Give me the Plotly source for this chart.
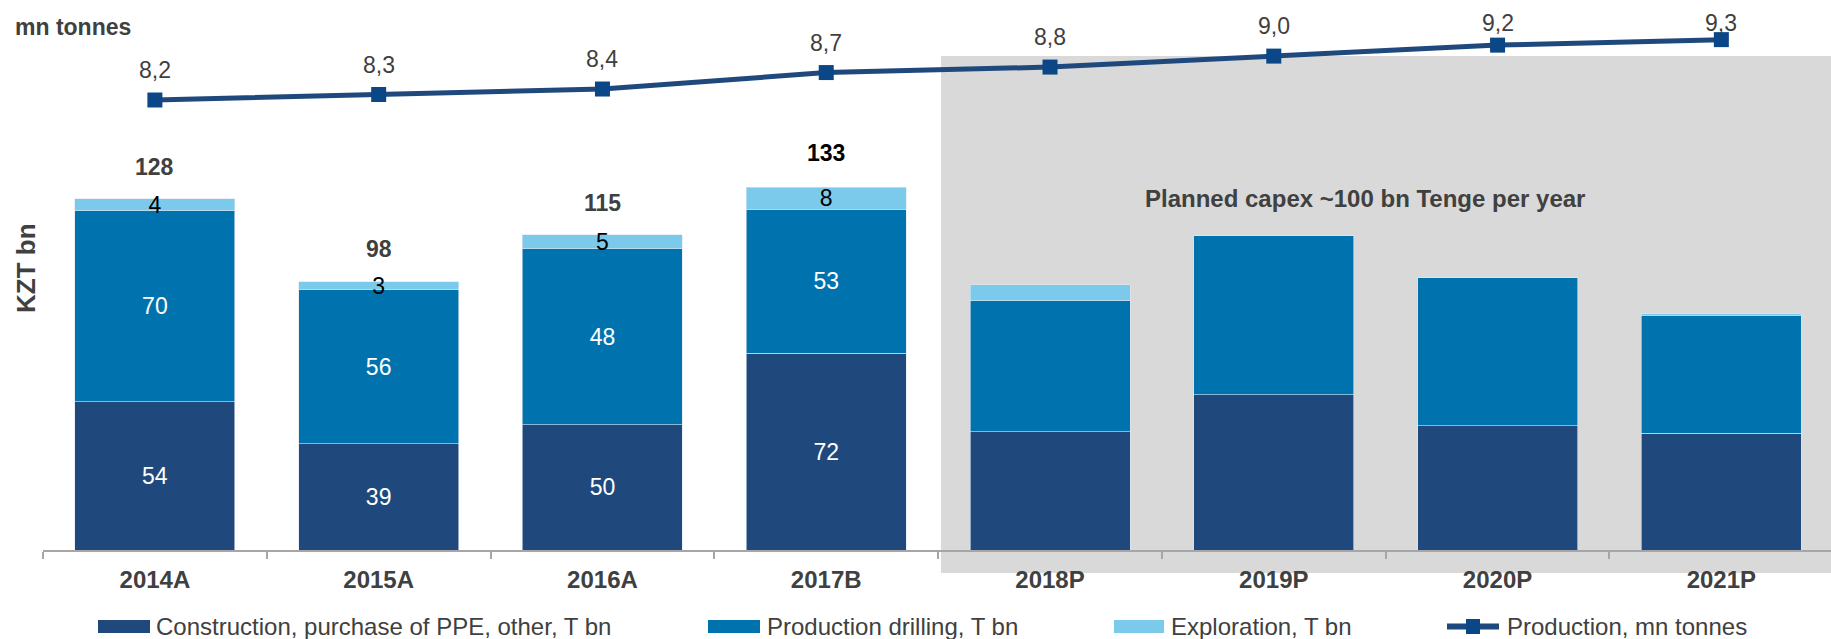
import plotly.graph_objects as go

# ---------------- data ----------------
categories = ["2014A", "2015A", "2016A", "2017B", "2018P", "2019P", "2020P", "2021P"]

construction = [54.1, 38.8, 45.6, 71.8, 43.1, 56.6, 45.3, 42.6]
drilling = [69.7, 56.1, 64.2, 52.5, 47.8, 58.0, 54.0, 43.1]
exploration = [4.3, 2.9, 5.1, 8.0, 5.8, 0.0, 0.0, 0.4]

construction_labels = ["54", "39", "50", "72", "", "", "", ""]
drilling_labels = ["70", "56", "48", "53", "", "", "", ""]
exploration_labels = ["4", "3", "5", "8", "", "", "", ""]

total_categories = ["2014A", "2015A", "2016A", "2017B"]
totals = [128, 98, 115, 133]
total_labels = ["128", "98", "115", "133"]

production = [8.2, 8.3, 8.4, 8.7, 8.8, 9.0, 9.2, 9.3]
production_labels = ["8,2", "8,3", "8,4", "8,7", "8,8", "9,0", "9,2", "9,3"]

series_names = ["Construction, purchase of PPE, other, T bn", "Production drilling, T bn",
                "Exploration, T bn", "Production, mn tonnes"]

# ---------------- style ----------------
FONT = "Liberation Sans, Arial, sans-serif"
C_CONS = "#1F497D"
C_DRILL = "#0073AF"
C_EXPL = "#7BCAEB"
C_LINE = "#1F497D"
C_MARK = "#0B4686"
GRAY_TXT = "#404040"

W, H = 1831, 639
ML, MR, MT, MB = 43, 0, 20, 89
PW, PH = W - ML - MR, H - MT - MB
BAR_MAX = PH / 2.742
LINE_MAX = PH / 54.878


def px(x):
    return (x - ML) / PW


def py(y):
    return (H - MB - y) / PH


fig = go.Figure()

bar_common = dict(textposition="inside", insidetextanchor="middle", textangle=0,
                  constraintext="none", width=0.715, showlegend=False)
fig.add_trace(go.Bar(x=categories, y=construction, name=series_names[0],
                     marker=dict(color=C_CONS, line=dict(color="#DDE6F0", width=0.6)),
                     text=construction_labels,
                     textfont=dict(family=FONT, size=23, color="white"), **bar_common))
fig.add_trace(go.Bar(x=categories, y=drilling, name=series_names[1],
                     marker=dict(color=C_DRILL, line=dict(color="#DDE6F0", width=0.6)),
                     text=drilling_labels,
                     textfont=dict(family=FONT, size=23, color="white"), **bar_common))
fig.add_trace(go.Bar(x=categories, y=exploration, name=series_names[2],
                     marker=dict(color=C_EXPL, line=dict(color="#DDE6F0", width=0.6)),
                     text=exploration_labels,
                     textfont=dict(family=FONT, size=23, color="black"), **bar_common))

fig.add_trace(go.Scatter(x=categories, y=production, name=series_names[3], yaxis="y2",
                         mode="lines+markers", line=dict(color=C_LINE, width=5),
                         marker=dict(symbol="square", size=15, color=C_MARK),
                         showlegend=False, cliponaxis=False))

annotations = []
# line value labels
for c, v, t in zip(categories, production, production_labels):
    marker_py = (H - MB) - v * (PH / LINE_MAX)
    shift = min(30, marker_py - 23)
    annotations.append(dict(x=c, y=v, xref="x", yref="y2", text=t, showarrow=False,
                            yanchor="middle", yshift=shift,
                            font=dict(family=FONT, size=23, color=GRAY_TXT)))
# totals
for c, v, t in zip(total_categories, totals, total_labels):
    annotations.append(dict(x=c, y=v, xref="x", yref="y", text=t, showarrow=False,
                            yanchor="middle", yshift=32,
                            font=dict(family=FONT, size=23, weight="bold",
                                      color="black" if c == "2017B" else GRAY_TXT)))

annotations += [
    dict(x=px(73), y=py(27), xref="paper", yref="paper", text="mn tonnes", showarrow=False,
         xanchor="center", yanchor="middle",
         font=dict(family=FONT, size=23, weight="bold", color=GRAY_TXT)),
    dict(x=px(26), y=py(268), xref="paper", yref="paper", text="KZT bn", showarrow=False,
         textangle=-90, xanchor="center", yanchor="middle",
         font=dict(family=FONT, size=26, weight="bold", color=GRAY_TXT)),
    dict(x=px(1365), y=py(198), xref="paper", yref="paper",
         text="Planned capex ~100 bn Tenge per year", showarrow=False,
         xanchor="center", yanchor="middle",
         font=dict(family=FONT, size=24, weight="bold", color=GRAY_TXT)),
]

shapes = [
    dict(type="rect", xref="paper", yref="paper", x0=px(941), x1=1.01, y0=py(573), y1=py(56),
         fillcolor="#D9D9D9", line=dict(width=0), layer="below"),
]

# custom legend
LEG_Y = 626.5
legend_items = [
    (98, 150, 154, C_CONS, series_names[0]),
    (708, 760, 765, C_DRILL, series_names[1]),
    (1114, 1164, 1169, C_EXPL, series_names[2]),
]
for x0, x1, xt, col, name in legend_items:
    shapes.append(dict(type="rect", xref="paper", yref="paper", x0=px(x0), x1=px(x1),
                       y0=py(LEG_Y + 6.5), y1=py(LEG_Y - 6.5), fillcolor=col,
                       line=dict(width=0), layer="above"))
    annotations.append(dict(x=px(xt), y=py(LEG_Y), xref="paper", yref="paper", text=name,
                            showarrow=False, xanchor="left", yanchor="middle",
                            font=dict(family=FONT, size=24, color=GRAY_TXT)))
shapes.append(dict(type="line", xref="paper", yref="paper", x0=px(1447), x1=px(1499),
                   y0=py(LEG_Y), y1=py(LEG_Y), line=dict(color=C_LINE, width=6), layer="above"))
shapes.append(dict(type="rect", xref="paper", yref="paper", x0=px(1466), x1=px(1480),
                   y0=py(LEG_Y + 7.5), y1=py(LEG_Y - 7.5), fillcolor=C_MARK,
                   line=dict(width=0), layer="above"))
annotations.append(dict(x=px(1505), y=py(LEG_Y), xref="paper", yref="paper", text=series_names[3],
                        showarrow=False, xanchor="left", yanchor="middle",
                        font=dict(family=FONT, size=24, color=GRAY_TXT)))

fig.update_layout(
    width=W, height=H,
    margin=dict(l=ML, r=MR, t=MT, b=MB, pad=0),
    barmode="stack",
    bargap=0.285,
    plot_bgcolor="rgba(0,0,0,0)",
    paper_bgcolor="white",
    showlegend=False,
    font=dict(family=FONT, color=GRAY_TXT),
    xaxis=dict(range=[-0.5, 7.49], showline=True, linecolor="#A6A6A6", linewidth=2,
               ticks="outside", tickson="boundaries", ticklen=7, tickwidth=2, tickcolor="#A6A6A6",
               ticklabelstandoff=7,
               tickfont=dict(family=FONT, size=24, weight="bold", color=GRAY_TXT),
               showgrid=False, zeroline=False, fixedrange=True),
    yaxis=dict(range=[0, BAR_MAX], visible=False, showgrid=False, zeroline=False),
    yaxis2=dict(range=[0, LINE_MAX], overlaying="y", visible=False, showgrid=False,
                zeroline=False),
    shapes=shapes,
    annotations=annotations,
)

fig.write_html("out.html", config={"displayModeBar": False},
               post_script="document.body.style.margin='0';document.body.style.overflow='hidden';")
